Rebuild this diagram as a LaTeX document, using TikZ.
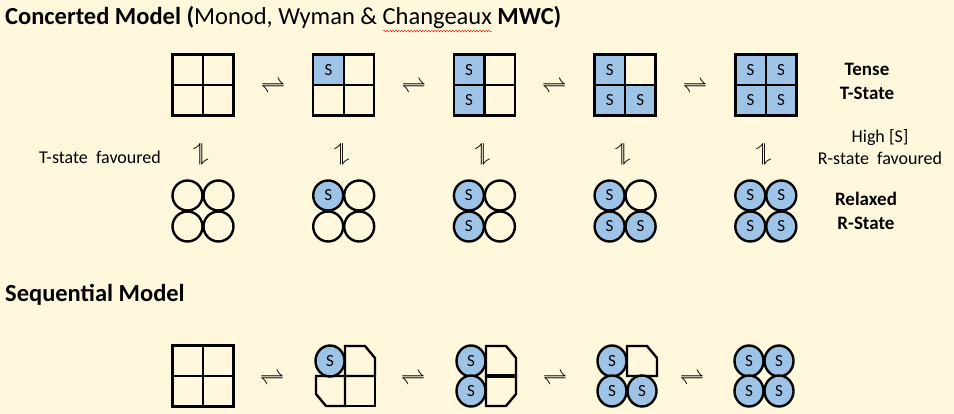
\documentclass[tikz,border=0pt]{standalone}
\usepackage{fontspec}
\setmainfont{Carlito}
\usetikzlibrary{decorations.pathmorphing,shapes.geometric}
\definecolor{bg}{HTML}{FFF8DC}
\definecolor{sblue}{HTML}{9DC3E6}
\tikzset{
 cellbox/.style={draw,line width=2.4pt,minimum size=30.5pt,inner sep=0pt,font=\fontsize{17}{17}\selectfont},
 ball/.style={draw,circle,line width=2.4pt,minimum size=30pt,inner sep=0pt,font=\fontsize{17}{17}\selectfont},
 oval/.style={draw,ellipse,line width=2.4pt,minimum width=29pt,minimum height=31pt,inner sep=0pt,font=\fontsize{17}{17}\selectfont},
 harp/.style={font=\fontsize{34}{34}\selectfont,inner sep=0pt},
 shp/.style={draw,line width=2.4pt,line join=miter},
 lbl/.style={font=\fontsize{18}{22}\selectfont,align=center},
 blbl/.style={font=\bfseries\fontsize{19}{24}\selectfont,align=center}
}
\begin{document}
\begin{tikzpicture}[x=1pt,y=-1pt]
\fill[bg] (0,0) rectangle (954,414);
\useasboundingbox (0,0) rectangle (954,414);
\node[anchor=west,inner sep=0pt,font=\fontsize{24.5}{24.5}\selectfont] (title) at (5,18) {\textbf{Concerted Model (}Monod, Wyman \& Changeaux \textbf{MWC)}};
\draw[red,thin,decorate,decoration={snake,amplitude=0.8pt,segment length=3pt}] (383,31) -- (492,31);
% top squares
\foreach \i/\a/\b/\c/\d in {0/0/0/0/0,1/1/0/0/0,2/1/0/1/0,3/1/0/1/1,4/1/1/1/1}{
 \pgfmathsetmacro{\cx}{203+140.7*\i}
 \foreach \dx/\dy/\f/\k in {-15.25/-15.25/\a/tl,15.25/-15.25/\b/tr,-15.25/15.25/\c/bl,15.25/15.25/\d/br}{
  \ifnum\f=1
   \node[cellbox,fill=sblue] (sq\i\k) at (\cx+\dx,85+\dy) {S};
  \else
   \node[cellbox] (sq\i\k) at (\cx+\dx,85+\dy) {};
  \fi
 }
 \ifnum\i<4
 \node[harp] (hh\i) at (\cx+70,87) {$\rightleftharpoons$};
 \fi
 \node[harp,rotate=90] (vh\i) at (\cx,154) {$\rightleftharpoons$};
 \foreach \dx/\dy/\f/\k in {-15.5/-15.5/\a/tl,15.5/-15.5/\b/tr,-15.5/15.5/\c/bl,15.5/15.5/\d/br}{
  \ifnum\f=1
   \node[ball,fill=sblue] (ci\i\k) at (\cx+\dx,211+\dy) {S};
  \else
   \node[ball] (ci\i\k) at (\cx+\dx,211+\dy) {};
  \fi
 }
}
\node[blbl] (tense) at (867,81) {Tense\\T-State};
\node[lbl] (high) at (880,147) {High [S]\\R-state\ \ favoured};
\node[blbl] (relax) at (866,211) {Relaxed\\R-State};
\node[lbl] (tfav) at (100,157) {T-state\ \ favoured};
\node[anchor=west,inner sep=0pt,font=\bfseries\fontsize{24.5}{24.5}\selectfont] (seq) at (5,295) {Sequential Model};
% sequential row
\foreach \dx/\dy/\k in {-15.25/-15.25/tl,15.25/-15.25/tr,-15.25/15.25/bl,15.25/15.25/br}{
 \node[cellbox] (q0\k) at (203+\dx,376+\dy) {};
}
\node[harp] (sh0) at (272,379) {$\rightleftharpoons$};
\node[harp] (sh1) at (413,379) {$\rightleftharpoons$};
\node[harp] (sh2) at (555,379) {$\rightleftharpoons$};
\node[harp] (sh3) at (692,379) {$\rightleftharpoons$};
% shape 2
\draw[shp] (345,346)--(365,346)--(375,358)--(375,376)--(345,376)--cycle;
\draw[shp] (316,376)--(345,376)--(345,406)--(326,406)--(316,394)--cycle;
\draw[shp] (345,376) rectangle (375,406);
\node[oval,fill=sblue] (o2a) at (330,361) {S};
% shape 3
\draw[shp] (486,346)--(506,346)--(516,358)--(516,376)--(486,376)--cycle;
\draw[shp] (486,376)--(516,376)--(516,394)--(506,406)--(486,406)--cycle;
\draw[line width=4pt] (486,376)--(516,376);
\node[oval,fill=sblue] (o3a) at (471,361) {S};
\node[oval,fill=sblue] (o3b) at (471,391) {S};
% shape 4
\draw[shp] (627,346)--(647,346)--(657,358)--(657,376)--(627,376)--cycle;
\node[oval,fill=sblue] (o4a) at (612,361) {S};
\node[oval,fill=sblue] (o4b) at (612,391) {S};
\node[oval,fill=sblue] (o4c) at (642,391) {S};
% shape 5
\node[oval,fill=sblue] (o5a) at (749,361) {S};
\node[oval,fill=sblue] (o5b) at (779,361) {S};
\node[oval,fill=sblue] (o5c) at (749,391) {S};
\node[oval,fill=sblue] (o5d) at (779,391) {S};
\end{tikzpicture}
\end{document}
